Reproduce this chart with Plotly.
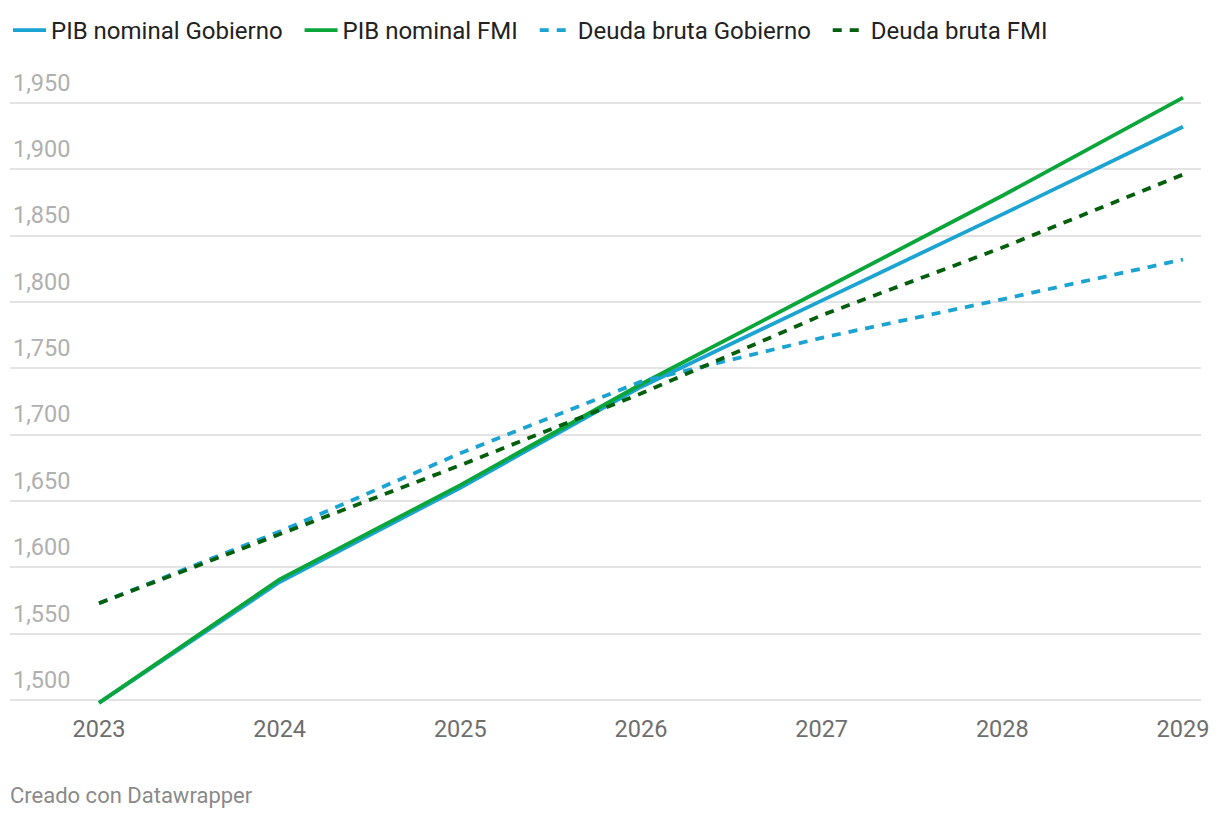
import plotly.graph_objects as go

years = [2023, 2024, 2025, 2026, 2027, 2028, 2029]
pib_gobierno = [1498, 1589, 1660, 1736, 1801, 1866, 1932]
pib_fmi = [1498, 1591, 1662, 1738, 1809, 1880, 1954]
deuda_gobierno = [1573, 1627, 1686, 1740, 1773, 1802, 1832]
deuda_fmi = [1573, 1625, 1677, 1731, 1790, 1841, 1896]

y_ticks = [1500, 1550, 1600, 1650, 1700, 1750, 1800, 1850, 1900, 1950]
y_tick_text = ["1,500", "1,550", "1,600", "1,650", "1,700", "1,750", "1,800", "1,850", "1,900", "1,950"]

series = [
    ("PIB nominal Gobierno", pib_gobierno, "#1ba3d1", "solid"),
    ("PIB nominal FMI", pib_fmi, "#0aa63a", "solid"),
    ("Deuda bruta Gobierno", deuda_gobierno, "#1ba3d1", "dash"),
    ("Deuda bruta FMI", deuda_fmi, "#035f0c", "dash"),
]

W, H = 1220, 820
OFF = 8  # page body margin
plot_left, plot_right = 10 - OFF, 1201 - OFF
plot_top, plot_bottom = 66 - OFF, 710 - OFF
g1500, g1950 = 700 - OFF, 102 - OFF
x2023, x2029 = 99 - OFF, 1183 - OFF

fig = go.Figure()
for name, vals, color, dash in series:
    fig.add_trace(go.Scatter(
        x=years, y=vals, name=name + "\u00a0\u00a0", mode="lines",
        line=dict(color=color, width=3.8, dash="9px,8px" if dash == "dash" else "solid"),
    ))

px_per_unit = (g1500 - g1950) / 450.0
y_lo = 1500 - (plot_bottom - g1500) / px_per_unit
y_hi = 1950 + (g1950 - plot_top) / px_per_unit
px_per_year = (x2029 - x2023) / 6.0
x_lo = 2023 - (x2023 - plot_left) / px_per_year
x_hi = 2029 + (plot_right - x2029) / px_per_year

fig.update_layout(
    width=W, height=H,
    margin=dict(l=0, r=0, t=0, b=0),
    paper_bgcolor="white", plot_bgcolor="white",
    font=dict(family="Roboto", size=24, color="#333333"),
    showlegend=True,
    legend=dict(orientation="h", x=0, xanchor="left", y=(H - (30 - OFF)) / H, yanchor="middle",
                font=dict(size=24, color="#222222"), itemwidth=33, tracegroupgap=0,
                bgcolor="rgba(0,0,0,0)"),
    xaxis=dict(domain=[plot_left / W, plot_right / W],
               range=[x_lo, x_hi], tickmode="array", tickvals=years,
               ticktext=[str(y) for y in years], showgrid=False, zeroline=False,
               showline=False, ticks="", ticklabelstandoff=2, automargin=False,
               tickfont=dict(size=23.5, color="#6e6e6e"), fixedrange=True),
    yaxis=dict(domain=[(H - plot_bottom) / H, (H - plot_top) / H],
               range=[y_lo, y_hi], tickmode="array", tickvals=y_ticks,
               ticktext=y_tick_text, showgrid=True, gridcolor="#e3e3e3", gridwidth=1.5,
               zeroline=False, showline=False, ticks="", automargin=False,
               ticklabelposition="inside top", ticklabelshift=-4,
               tickfont=dict(size=23.5, color="#b0b0b0"), fixedrange=True),
    annotations=[dict(text="Creado con Datawrapper", xref="paper", yref="paper",
                      x=0, y=(H - (795 - OFF)) / H, xanchor="left", yanchor="middle", showarrow=False,
                      font=dict(size=22, color="#8a8a8a"))],
)

fig.write_html("out.html")
